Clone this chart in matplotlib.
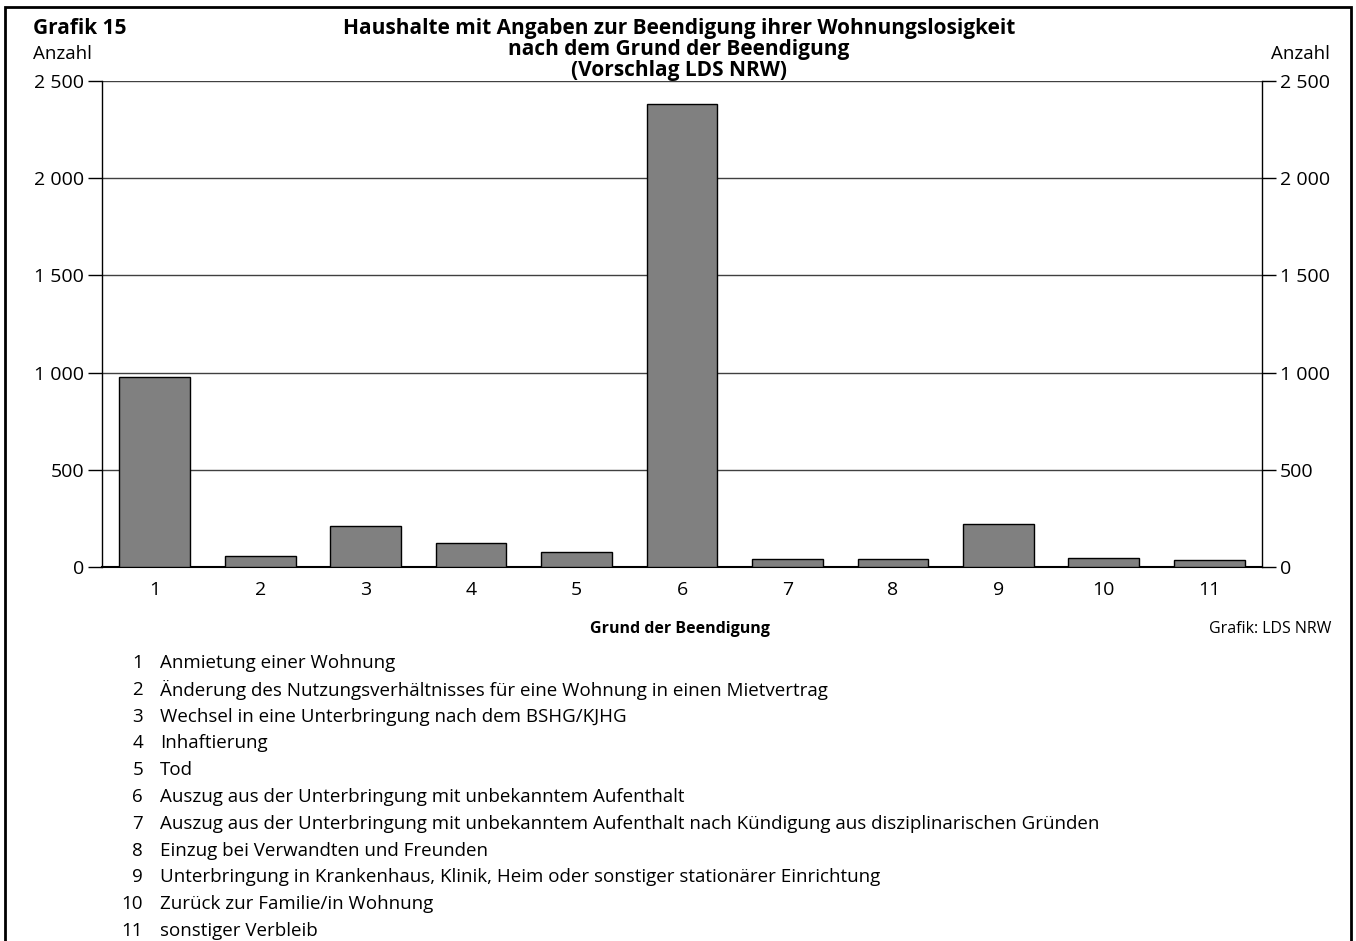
import matplotlib.pyplot as plt
from matplotlib.ticker import FuncFormatter
from matplotlib.patches import Rectangle

plt.rcParams['font.family'] = ['Open Sans', 'DejaVu Sans']

# Daten
gruende = [1, 2, 3, 4, 5, 6, 7, 8, 9, 10, 11]
anzahl = [975, 58, 212, 122, 77, 2381, 40, 40, 219, 46, 34]
y_ticks = [0, 500, 1000, 1500, 2000, 2500]
titel = [
    "Haushalte mit Angaben zur Beendigung ihrer Wohnungslosigkeit",
    "nach dem Grund der Beendigung",
    "(Vorschlag LDS NRW)",
]
legende = [
    "Anmietung einer Wohnung",
    "Änderung des Nutzungsverhältnisses für eine Wohnung in einen Mietvertrag",
    "Wechsel in eine Unterbringung nach dem BSHG/KJHG",
    "Inhaftierung",
    "Tod",
    "Auszug aus der Unterbringung mit unbekanntem Aufenthalt",
    "Auszug aus der Unterbringung mit unbekanntem Aufenthalt nach Kündigung aus disziplinarischen Gründen",
    "Einzug bei Verwandten und Freunden",
    "Unterbringung in Krankenhaus, Klinik, Heim oder sonstiger stationärer Einrichtung",
    "Zurück zur Familie/in Wohnung",
    "sonstiger Verbleib",
]

W, H = 1356, 941
fig = plt.figure(figsize=(W / 100, H / 100), dpi=100)
ax = fig.add_axes([102 / W, 1 - 567 / H, 1160 / W, 486 / H])

ax.bar(gruende, anzahl, width=0.67, color="#808080", edgecolor="black", linewidth=1, zorder=3)

ax.set_xlim(0.5, 11.5)
ax.set_ylim(0, 2500)
ax.set_yticks(y_ticks)
fmt = FuncFormatter(lambda v, p: f"{int(v):,}".replace(",", " "))
ax.yaxis.set_major_formatter(fmt)
ax.set_xticks(gruende)
ax.set_xticklabels([str(g) for g in gruende])
ax.tick_params(axis="x", length=0, labelsize=14, pad=10)
ax.tick_params(axis="y", length=10, width=1, labelsize=14, pad=3,
               left=True, right=True, labelleft=True, labelright=True)
ax.grid(axis="y", color="#404040", linewidth=1, zorder=0)
ax.spines["top"].set_visible(False)
ax.spines["bottom"].set_linewidth(1.5)
ax.spines["left"].set_linewidth(1)
ax.spines["right"].set_linewidth(1)

# Rahmen
fig.patches.append(Rectangle((5 / W, -0.05), 1346 / W, 1.05 - 7 / H, transform=fig.transFigure,
                             fill=False, edgecolor="black", linewidth=2))

def fx(x):
    return x / W

def fy(y):
    return 1 - y / H

fig.text(fx(33), fy(34), "Grafik 15", fontsize=15, fontweight="bold", va="baseline", ha="left")
for i, zeile in enumerate(titel):
    fig.text(fx(679), fy(34 + i * 21), zeile, fontsize=15, fontweight="bold",
             ha="center", va="baseline")
fig.text(fx(33), fy(54), "Anzahl", fontsize=13.5, va="center", ha="left")
fig.text(fx(1330), fy(54), "Anzahl", fontsize=13.5, va="center", ha="right")
fig.text(fx(680), fy(629), "Grund der Beendigung", fontsize=11.5, fontweight="bold", ha="center", va="center")
fig.text(fx(1331), fy(629), "Grafik: LDS NRW", fontsize=11.5, ha="right", va="center")

for i, txt in enumerate(legende):
    y = 663 + i * 26.8
    fig.text(fx(143), fy(y), str(gruende[i]), fontsize=13.5, ha="right", va="center")
    fig.text(fx(160), fy(y), txt, fontsize=13.5, ha="left", va="center")

fig.savefig("out.png", dpi=100)
